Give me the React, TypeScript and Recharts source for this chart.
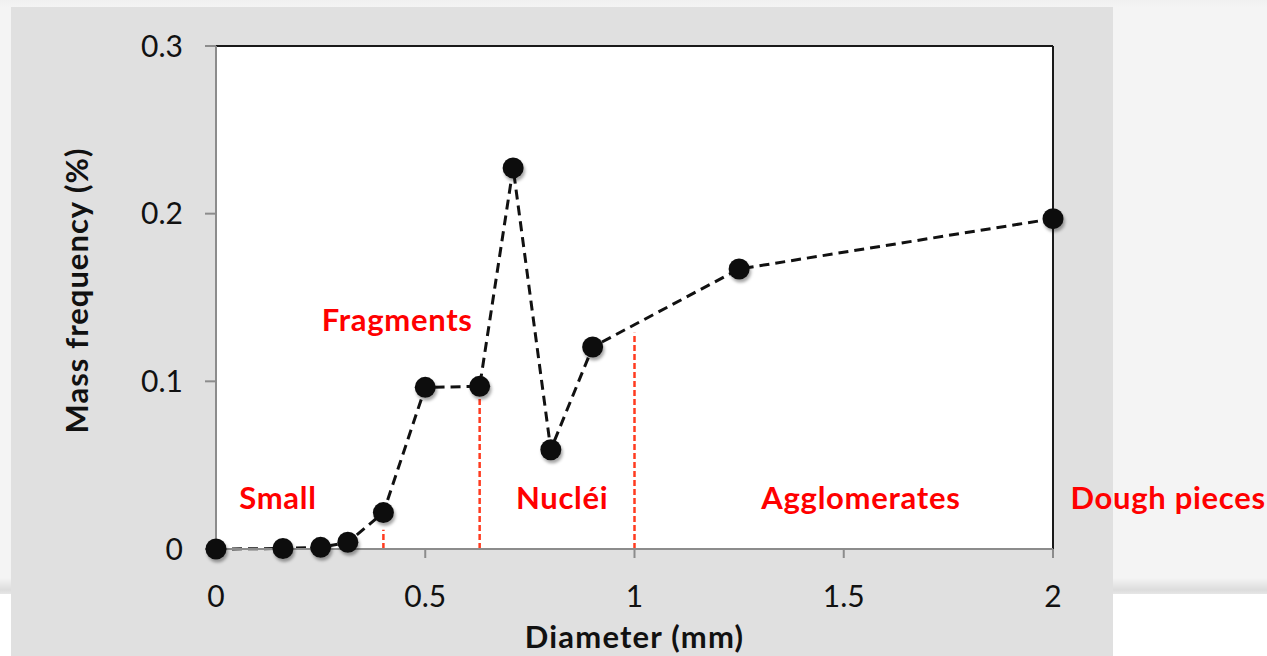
import React from 'react';
import {
  ComposedChart,
  Line,
  XAxis,
  YAxis,
  ReferenceLine,
  ReferenceDot,
  CartesianGrid,
  Label,
} from 'recharts';

// ---- data ----
const diameters = [0, 0.16, 0.25, 0.315, 0.4, 0.5, 0.63, 0.71, 0.8, 0.9, 1.25, 2];
const massFreq = [0, 0.0003, 0.001, 0.004, 0.0217, 0.0964, 0.097, 0.2273, 0.0592, 0.1205, 0.167, 0.197];

const xTicks = [0, 0.5, 1, 1.5, 2];
const yTicks = [0, 0.1, 0.2, 0.3];

const boundaryX = [0.4, 0.63, 1.0];
const boundaryTop = [0.0115, 0.091, 0.129];

const regionNames = ['Small', 'Fragments', 'Nucléi', 'Agglomerates', 'Dough pieces'];
const regionX = [0.148, 0.433, 0.827, 1.541, 2.275];
const regionY = [0.0304, 0.1366, 0.0304, 0.0304, 0.0304];

const xTitle = 'Diameter (mm)';
const yTitle = 'Mass frequency (%)';

const data = diameters.map((d, i) => ({ d, f: massFreq[i] }));

const FONT = "Lato, 'Open Sans', sans-serif";

const Dot = (props: any) => {
  const { cx, cy } = props;
  if (cx == null || cy == null) return null;
  return <circle cx={cx} cy={cy} r={10.5} fill="#111" filter="url(#dotShadow)" />;
};

const YTick = (props: any) => {
  const { y, payload } = props;
  return (
    <text x={183} y={y} dy={10.5} textAnchor="end" fontSize={30} fill="#111" fontFamily={FONT}>
      {String(payload.value)}
    </text>
  );
};

const XTick = (props: any) => {
  const { x, payload } = props;
  return (
    <text x={x} y={607} textAnchor="middle" fontSize={30} fill="#111" fontFamily={FONT}>
      {String(payload.value)}
    </text>
  );
};

const RegionLabel = (text: string) => (props: any) => {
  const { cx, cy } = props;
  return (
    <text
      x={cx}
      y={cy}
      dy={11}
      textAnchor="middle"
      fontSize={31}
      fontWeight="bold"
      letterSpacing={0.7}
      fill="#ff0000"
      fontFamily={FONT}
    >
      {text}
    </text>
  );
};

const XTitle = (props: any) => {
  const vb = props.viewBox || {};
  return (
    <text
      x={vb.x + vb.width / 2}
      y={vb.y + 99}
      textAnchor="middle"
      fontSize={31}
      fontWeight="bold"
      letterSpacing={1.2}
      fill="#111"
      fontFamily={FONT}
    >
      {xTitle}
    </text>
  );
};

const YTitle = (props: any) => {
  const vb = props.viewBox || {};
  const cx = vb.x + 72;
  const cy = vb.y + vb.height / 2 - 7;
  return (
    <text
      x={cx}
      y={cy}
      transform={`rotate(-90 ${cx} ${cy})`}
      textAnchor="middle"
      fontSize={31}
      fontWeight="bold"
      letterSpacing={1}
      fill="#111"
      fontFamily={FONT}
    >
      {yTitle}
    </text>
  );
};

export default function App() {
  return (
    <div
      style={{
        position: 'fixed',
        left: 0,
        top: 0,
        width: 1267,
        height: 656,
        background: '#ffffff',
        overflow: 'hidden',
      }}
    >
      <div
        style={{
          position: 'absolute',
          left: 0,
          top: 0,
          width: 1267,
          height: 594,
          background:
            'linear-gradient(to bottom, #f0f0f0 0px, #f4f4f4 8px, #f4f4f4 578px, #dcdcdc 590px, #e6e6e6 594px)',
        }}
      />
      <div
        style={{
          position: 'absolute',
          left: 11,
          top: 7,
          width: 1102,
          height: 649,
          background: '#e0e0e0',
        }}
      />
      <svg width={0} height={0} style={{ position: 'absolute' }}>
        <defs>
          <filter id="dotShadow" x="-50%" y="-50%" width="200%" height="200%">
            <feDropShadow dx={1.5} dy={3} stdDeviation={1.8} floodColor="#000" floodOpacity={0.35} />
          </filter>
        </defs>
      </svg>
      <div style={{ position: 'absolute', left: 0, top: 0 }}>
        <ComposedChart
          width={1267}
          height={656}
          data={data}
          margin={{ top: 46, right: 214, bottom: 7, left: 16 }}
          style={{ overflow: 'visible' }}
        >
          <CartesianGrid horizontal={false} vertical={false} fill="#ffffff" />
          <XAxis
            dataKey="d"
            type="number"
            domain={[0, 2]}
            ticks={xTicks}
            height={100}
            axisLine={{ stroke: '#8c8c8c', strokeWidth: 2 }}
            tickLine={{ stroke: '#8c8c8c', strokeWidth: 2 }}
            tickSize={9}
            tick={<XTick />}
          >
            <Label content={<XTitle />} />
          </XAxis>
          <YAxis
            type="number"
            domain={[0, 0.3]}
            ticks={yTicks}
            width={200}
            axisLine={{ stroke: '#8c8c8c', strokeWidth: 2 }}
            tickLine={{ stroke: '#8c8c8c', strokeWidth: 2 }}
            tickSize={11}
            tick={<YTick />}
          >
            <Label content={<YTitle />} />
          </YAxis>
          <ReferenceLine y={0.3} stroke="#1a1a1a" strokeWidth={2} />
          <ReferenceLine x={2} stroke="#1a1a1a" strokeWidth={2} />
          {boundaryX.map((bx, i) => (
            <ReferenceLine
              key={'b' + i}
              segment={[
                { x: bx, y: 0 },
                { x: bx, y: boundaryTop[i] },
              ]}
              stroke="#ff3b1f"
              strokeWidth={2.5}
              strokeDasharray="6 3"
            />
          ))}
          {regionNames.map((name, i) => (
            <ReferenceDot
              key={'r' + i}
              x={regionX[i]}
              y={regionY[i]}
              r={0}
              ifOverflow="visible"
              shape={RegionLabel(name)}
            />
          ))}
          <Line
            dataKey="f"
            type="linear"
            stroke="#111"
            strokeWidth={3}
            strokeDasharray="10 6"
            dot={<Dot />}
            activeDot={false}
            isAnimationActive={false}
          />
        </ComposedChart>
      </div>
    </div>
  );
}
